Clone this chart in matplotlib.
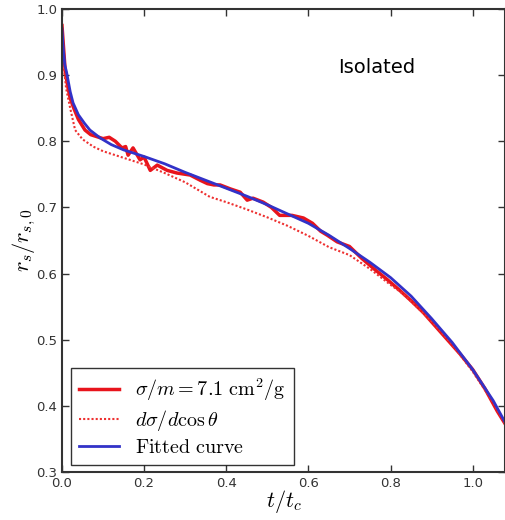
import matplotlib
matplotlib.use('Agg')

import matplotlib.pyplot as plt
import numpy as np

# sigma/m = 7.1 cm^2/g run (noisy)
t_sim = [0.0, 0.004, 0.008, 0.015, 0.02, 0.03, 0.04, 0.056, 0.07, 0.085, 0.1,
         0.115, 0.13, 0.146, 0.155, 0.161, 0.173, 0.19, 0.2, 0.215, 0.232, 0.256,
         0.28, 0.312, 0.337, 0.354, 0.37, 0.385, 0.41, 0.434, 0.451, 0.465, 0.49,
         0.51, 0.53, 0.56, 0.588, 0.61, 0.63, 0.646, 0.67, 0.7, 0.73, 0.76, 0.79,
         0.82, 0.85, 0.88, 0.91, 0.94, 0.97, 1.0, 1.03, 1.06, 1.08]
r_sim = [0.975, 0.94, 0.905, 0.88, 0.865, 0.848, 0.833, 0.817, 0.81, 0.807, 0.804,
         0.806, 0.80, 0.79, 0.792, 0.779, 0.79, 0.772, 0.776, 0.756, 0.764, 0.756,
         0.752, 0.749, 0.741, 0.736, 0.734, 0.734, 0.728, 0.723, 0.711, 0.714, 0.708,
         0.700, 0.688, 0.688, 0.684, 0.676, 0.664, 0.658, 0.648, 0.641, 0.623, 0.607, 0.592,
         0.576, 0.559, 0.541, 0.520, 0.499, 0.478, 0.455, 0.426, 0.392, 0.372]

# differential cross section run
t_diff = [0.0, 0.005, 0.01, 0.02, 0.032, 0.05, 0.076, 0.1, 0.15, 0.2, 0.25, 0.3,
          0.36, 0.4, 0.45, 0.5, 0.55, 0.6, 0.65, 0.7, 0.75, 0.8, 0.825, 0.85, 0.9,
          0.95, 1.0, 1.05, 1.08]
r_diff = [0.96, 0.91, 0.88, 0.85, 0.817, 0.803, 0.792, 0.785, 0.775, 0.765, 0.752, 0.738,
          0.716, 0.708, 0.697, 0.685, 0.672, 0.657, 0.640, 0.628, 0.607, 0.583, 0.572, 0.558, 0.528,
          0.493, 0.452, 0.405, 0.372]

# fitted curve
t_fit = [0.0, 0.003, 0.007, 0.011, 0.02, 0.027, 0.04, 0.055, 0.068, 0.093, 0.12, 0.15,
         0.2, 0.25, 0.3, 0.35, 0.4, 0.45, 0.5, 0.55, 0.6, 0.65, 0.7, 0.75, 0.8, 0.85,
         0.9, 0.95, 1.0, 1.05, 1.08]
r_fit = [0.97, 0.94, 0.915, 0.905, 0.875, 0.858, 0.84, 0.827, 0.817, 0.805, 0.795, 0.787,
         0.777, 0.766, 0.753, 0.741, 0.729, 0.717, 0.704, 0.690, 0.676, 0.658, 0.638, 0.617, 0.594, 0.566,
         0.532, 0.496, 0.455, 0.408, 0.374]

plt.rcParams['mathtext.fontset'] = 'cm'

fig = plt.figure(figsize=(5.06, 5.2), dpi=100)
ax = fig.add_axes([0.1225, 0.0923, 0.8765, 0.8904])

ax.plot(t_sim, r_sim, '-', color='#e8141c', lw=2.5, label=r'$\sigma/m = 7.1\ \mathrm{cm^2/g}$')
ax.plot(t_diff, r_diff, linestyle=(0, (1, 1)), color='#ee3030', lw=1.5, label=r'$d\sigma/d\cos\theta$')
ax.plot(t_fit, r_fit, '-', color='#3232c8', lw=2, label=r'$\mathrm{Fitted\ curve}$')

ax.set_xlim(0, 1.08)
ax.set_ylim(0.3, 1.0)
ax.set_xticks([0.0, 0.2, 0.4, 0.6, 0.8, 1.0])
ax.set_yticks([0.3, 0.4, 0.5, 0.6, 0.7, 0.8, 0.9, 1.0])
ax.tick_params(direction='in', top=True, right=True, length=5, width=1,
               labelsize=9.5, labelcolor='#333333', color='#333333')
for s in ax.spines.values():
    s.set_linewidth(1.5)
    s.set_color('#333333')

ax.set_xlabel(r'$t/t_c$', fontsize=16, labelpad=-1)
ax.set_ylabel(r'$r_s/r_{s,0}$', fontsize=16, labelpad=-1)

ax.text(0.766, 0.912, 'Isolated', fontsize=14, ha='center', va='center')

leg = ax.legend(loc='lower left', fontsize=14.5, fancybox=False, handlelength=2.0,
                borderpad=0.4, labelspacing=0.25, borderaxespad=0,
                bbox_to_anchor=(0.02, 0.015))
leg.get_frame().set_edgecolor('black')
leg.get_frame().set_linewidth(1.0)

fig.savefig('out.png', dpi=100)
plt.close(fig)
